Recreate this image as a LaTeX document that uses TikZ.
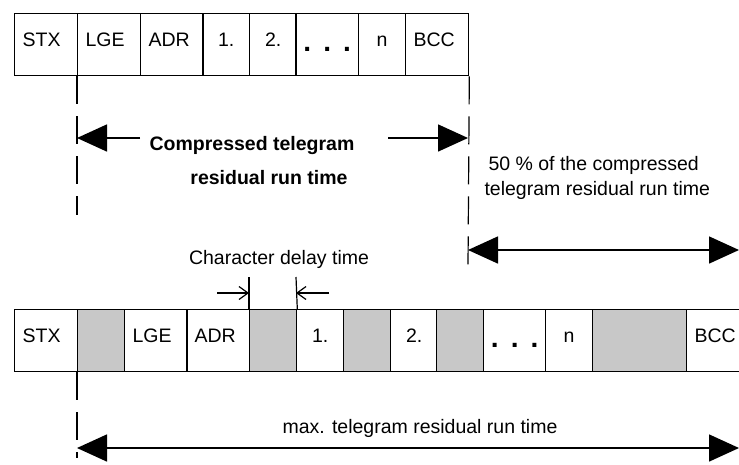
\documentclass[tikz,border=0pt]{standalone}
\usepackage{fontspec}
\setmainfont{Liberation Sans}
\usetikzlibrary{arrows.meta}

\begin{document}
\begin{tikzpicture}[x=1pt,y=-1pt,
  cell/.style={draw=black, line width=1.3pt, anchor=north west, minimum height=62pt,
    inner xsep=0pt, inner ysep=0pt, text height=14pt, text depth=10pt,
    font=\fontsize{19.5}{22}\selectfont},
  tcell/.style={cell, minimum width=63pt, inner xsep=8pt, text width=47pt, align=left},
  ncell/.style={cell, minimum width=47pt},
  dcell/.style={cell, minimum width=63pt, text height=19pt, text depth=5pt,
    font=\fontsize{28}{28}\bfseries},
  gap/.style={cell, fill=delaygray, minimum width=#1},
  guide/.style={line width=1.2pt, dash pattern=on 28pt off 12pt},
  span/.style={line width=1.6pt, {Triangle[length=30pt,width=27pt]}-{Triangle[length=30pt,width=27pt]}},
  halfspan/.style={line width=1.6pt, -{Triangle[length=30pt,width=27pt]}},
  tick/.style={line width=1.2pt},
  small/.style={line width=1.2pt, -{Straight Barb[length=9pt,width=13pt]}},
  txt/.style={anchor=base, font=\fontsize{19.5}{22}\selectfont},
  btxt/.style={anchor=base, font=\fontsize{19.5}{22}\selectfont\bfseries}]
\definecolor{delaygray}{RGB}{200,200,200}
\useasboundingbox (0,0) rectangle (739,464);
% compressed telegram
\node [tcell] (stx) at (14,13) {STX};
\node [tcell] (lge) at (77,13) {LGE};
\node [tcell] (adr) at (140,13) {ADR};
\node [ncell] (one) at (202,13) {1.};
\node [ncell] (two) at (249,13) {2.};
\node [dcell] (dots) at (295,13) {.\hspace{12pt}.\hspace{12pt}.};
\node [ncell] (nth) at (358,13) {n};
\node [tcell] (bcc) at (405,13) {BCC};
% telegram with character delay times
\node [tcell] (stxb) at (14,309) {STX};
\node [gap=47pt] (gapa) at (77,309) {};
\node [tcell] (lgeb) at (124,309) {LGE};
\node [tcell] (adrb) at (186,309) {ADR};
\node [gap=47pt] (gapb) at (249,309) {};
\node [ncell] (oneb) at (296,309) {1.};
\node [gap=47pt] (gapc) at (343,309) {};
\node [ncell] (twob) at (390,309) {2.};
\node [gap=47pt] (gapd) at (436,309) {};
\node [dcell, minimum width=62pt] (dotsb) at (483,309) {.\hspace{12pt}.\hspace{12pt}.};
\node [ncell] (nthb) at (545,309) {n};
\node [gap=94pt] (gape) at (592,309) {};
\node [tcell] (bccb) at (686,309) {BCC};
% guide lines
\coordinate (lgeend) at (77,215);
\coordinate (bccend) at (468,267);
\coordinate (gapend) at (77,458);
\draw [guide] (lge.south west) -- (lgeend);
\draw [guide] (bcc.south east) -- (bccend);
\draw [guide] (gapa.south west) -- (gapend);
% run times
\coordinate (cl) at (77,138);
\coordinate (clin) at (140,138);
\coordinate (crin) at (388,138);
\coordinate (cr) at (468,138);
\draw [halfspan] (clin) -- (cl);
\draw [halfspan] (crin) -- (cr);
\node [btxt] (comp) at (252,150) {Compressed telegram};
\node [btxt] (resid) at (269,184) {residual run time};
\node [txt, anchor=base west] (half) at (485,170) {50 \% of the compressed};
\node [txt, anchor=base west] (halfb) at (481,195) {telegram residual run time};
\coordinate (hl) at (468,250);
\coordinate (hr) at (739,250);
\draw [span] (hl) -- (hr);
\coordinate (ml) at (77,448);
\coordinate (mr) at (739,448);
\draw [span] (ml) -- (mr);
\node [txt] (maxrt) at (420,433) {max. telegram residual run time};
% character delay time
\node [txt] (delay) at (279,264) {Character delay time};
\coordinate (dl) at (249,277);
\coordinate (dr) at (296,277);
\draw [tick] (gapb.north west) -- (dl);
\draw [tick] (gapb.north east) -- (dr);
\coordinate (dla) at (217,293);
\coordinate (dlb) at (249,293);
\coordinate (dra) at (329,293);
\coordinate (drb) at (296,293);
\draw [small] (dla) -- (dlb);
\draw [small] (dra) -- (drb);
\end{tikzpicture}
\end{document}
